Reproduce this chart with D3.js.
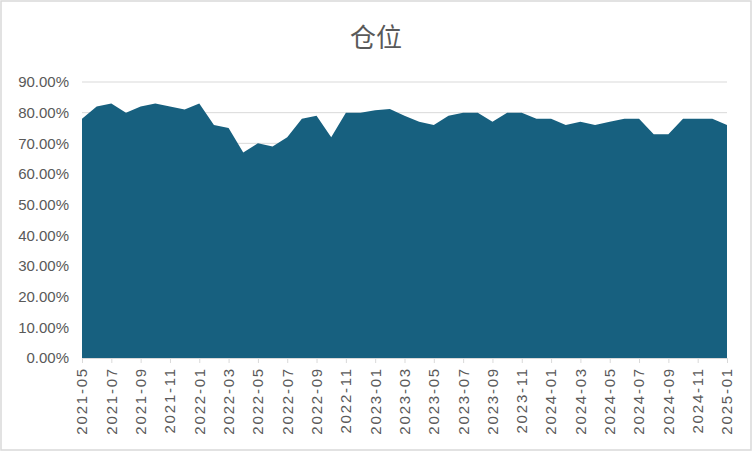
<!DOCTYPE html>
<html><head><meta charset="utf-8">
<script src="https://cdn.jsdelivr.net/npm/d3@7"></script>
<style>body{margin:0;background:#fff}svg{display:block}</style>
</head><body><svg id="c" width="752" height="452"></svg>
<script>
const months = ["2021-05","2021-06","2021-07","2021-08","2021-09","2021-10","2021-11","2021-12",
"2022-01","2022-02","2022-03","2022-04","2022-05","2022-06","2022-07","2022-08","2022-09","2022-10","2022-11","2022-12",
"2023-01","2023-02","2023-03","2023-04","2023-05","2023-06","2023-07","2023-08","2023-09","2023-10","2023-11","2023-12",
"2024-01","2024-02","2024-03","2024-04","2024-05","2024-06","2024-07","2024-08","2024-09","2024-10","2024-11","2024-12",
"2025-01"];
const position = [78,82,83,80,82,83,82,81,83,76,75,67,70,69,72,78,79,72,80,80,
80.8,81.2,79,77,76,79,80,80,77,80,80,78,78,76,77,76,77,78,78,73,73,78,78,78,76];
const yTicks = [0,10,20,30,40,50,60,70,80,90];
const title = "仓位";

const svg = d3.select("#c");
svg.append("rect").attr("x",1).attr("y",1).attr("width",750).attr("height",449)
  .attr("fill","#fff").attr("stroke","#d9d9d9").attr("stroke-width",1.5);

const x = d3.scalePoint().domain(months).range([82,727]);
const y = d3.scaleLinear().domain([0,90]).range([358,82]);

svg.append("text").attr("x",376).attr("y",47).attr("text-anchor","middle")
  .attr("font-family","'Noto Sans CJK SC', sans-serif").attr("font-size",26)
  .attr("fill","#595959").text(title);

// gridlines
svg.append("g").selectAll("line").data(yTicks.filter(d=>d>0)).join("line")
  .attr("x1",82).attr("x2",727).attr("y1",d=>y(d)).attr("y2",d=>y(d))
  .attr("stroke","#d9d9d9").attr("stroke-width",1);

// y labels
svg.append("g").selectAll("text").data(yTicks).join("text")
  .attr("x",69).attr("y",d=>y(d)).attr("dy","0.36em").attr("text-anchor","end")
  .attr("font-family","'Liberation Sans', Arial, sans-serif").attr("font-size",15)
  .attr("fill","#595959").text(d=>d.toFixed(2)+"%");

// area
const area = d3.area().x((d,i)=>x(months[i])).y0(y(0)).y1(d=>y(d));
svg.append("path").datum(position).attr("d",area).attr("fill","#17607f");

// x axis
const labeled = months.filter((d,i)=>i%2===0);
const xAxis = d3.axisBottom(x).tickValues(labeled).tickSize(5).tickFormat("");
const gx = svg.append("g").attr("transform","translate(0,358)").call(xAxis);
gx.select(".domain").attr("stroke","#d9d9d9").attr("d","M82,0.5H727");
gx.selectAll(".tick line").attr("stroke","#d9d9d9");

svg.append("g").selectAll("text").data(labeled).join("text")
  .attr("transform",d=>`translate(${x(d)},367) rotate(-90)`)
  .attr("text-anchor","end").attr("dy","0.36em")
  .attr("font-family","'Liberation Sans', Arial, sans-serif").attr("font-size",15)
  .attr("letter-spacing","1.8px")
  .attr("fill","#595959").text(d=>d);
</script></body></html>
